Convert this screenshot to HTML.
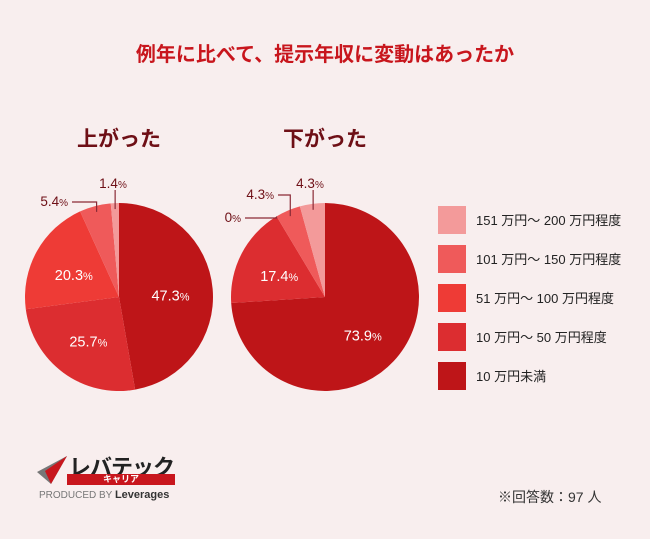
<!DOCTYPE html>
<html><head><meta charset="utf-8">
<style>
body{margin:0;width:650px;height:539px;background:#f8eeee;font-family:"Liberation Sans","Noto Sans CJK JP",sans-serif;overflow:hidden;position:relative}
.t{position:absolute;white-space:nowrap}
</style></head><body>
<div class="t" style="left:0;width:650px;text-align:center;top:38px;font-size:20px;font-weight:bold;color:#c8161d">例年に比べて、提示年収に変動はあったか</div>
<svg id="c" width="650" height="539" style="position:absolute;left:0;top:0"></svg>
<div class="t" style="left:498px;top:487px;font-size:14px;color:#333">※回答数：97 人</div>
<div style="position:absolute;left:37px;top:452px;width:150px;height:52px">
<svg width="30" height="30" style="position:absolute;left:0;top:2px"><polygon points="0,18 30,2 14,30" fill="#777"/><polygon points="8,17 30,2 14,30" fill="#c8161d"/></svg>
<div class="t" style="left:32px;top:-2px;font-size:22px;font-weight:bold;color:#222;letter-spacing:-1px">レバテック</div>
<div class="t" style="left:30px;top:22px;width:108px;height:11px;background:#c8161d;color:#fff;font-size:9px;text-align:center;line-height:11px;font-weight:bold">キャリア</div>
<div class="t" style="left:2px;top:37px;font-size:10px;color:#777">PRODUCED BY <b style="color:#333;font-size:11px">Leverages</b></div>
</div>
<script>
const categories=["10 万円未満","10 万円〜 50 万円程度","51 万円〜 100 万円程度","101 万円〜 150 万円程度","151 万円〜 200 万円程度"];
const upValues=[47.3,25.7,20.3,5.4,1.4];
const downValues=[73.9,17.4,0,4.3,4.3];
const colors=["#be1518","#dc2d30","#ee3b36","#ef5a5a","#f39a9a"];
const svg=document.getElementById('c');
const NS='http://www.w3.org/2000/svg';
function mk(tag,attrs){const e=document.createElementNS(NS,tag);for(const k in attrs)e.setAttribute(k,attrs[k]);svg.appendChild(e);return e;}
function pt(cx,cy,r,a){return [cx+r*Math.sin(a),cy-r*Math.cos(a)];}
function pie(cx,cy,r,vals,title,outside,nm){
  const tt=mk('text',{x:cx,y:146,'text-anchor':'middle','font-size':21,fill:'#6e0f16','font-weight':'bold'});
  tt.textContent=title;
  
  
  const tot=vals.reduce((a,b)=>a+b,0);let a0=0;
  vals.forEach((v,i)=>{
    const a1=a0+v/tot*2*Math.PI;
    if(v>0){const p0=pt(cx,cy,r,a0),p1=pt(cx,cy,r,a1);
      const p=mk('path',{d:`M${cx},${cy}L${p0[0]},${p0[1]}A${r},${r} 0 ${a1-a0>Math.PI?1:0} 1 ${p1[0]},${p1[1]}Z`,fill:colors[i]});
      
      }
    const am=(a0+a1)/2;
    if(v>=10){const q=pt(cx,cy,r*0.55,am);
      const t=mk('text',{x:q[0],y:q[1]+8,'text-anchor':'middle','font-size':14.5,fill:'#fff'});
      t.innerHTML=v+'<tspan font-size="11">%</tspan>';
      
      }
    else{const o=outside[i];const e=pt(cx,cy,r+(v>0?-6:0),am);
      const pts=o.elbow?`${e[0]},${e[1]} ${e[0]},${o.ly} ${o.lx},${o.ly}`:`${e[0]},${e[1]} ${e[0]},${o.ly}`;
      mk('polyline',{points:pts,fill:'none',stroke:'#8a2a36','stroke-width':1.2});
      const t=mk('text',{x:o.tx,y:o.ty,'text-anchor':o.anchor,'font-size':13.5,fill:'#6e0f16'});
      t.innerHTML=v+'<tspan font-size="10">%</tspan>';
      
      }
    a0=a1;});
}
pie(119,297,94,upValues,'上がった',{3:{elbow:1,ly:202,lx:72,tx:68,ty:206,anchor:'end'},4:{elbow:0,ly:190,tx:113,ty:188,anchor:'middle'}},'up-pie');
pie(325,297,94,downValues,'下がった',{2:{elbow:1,ly:218,lx:245,tx:241,ty:222,anchor:'end'},3:{elbow:1,ly:195,lx:278,tx:274,ty:199,anchor:'end'},4:{elbow:0,ly:190,tx:310,ty:188,anchor:'middle'}},'down-pie');
for(let k=0;k<5;k++){const i=4-k;const y=206+k*39;
  const r=mk('rect',{x:438,y:y,width:28,height:28,fill:colors[i]});
  
  
  const t=mk('text',{x:476,y:y+19,'font-size':13,fill:'#222'});t.textContent=categories[i];
  
  }
</script>
</body></html>
